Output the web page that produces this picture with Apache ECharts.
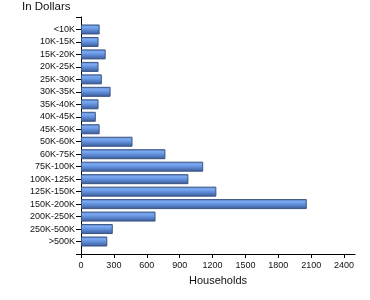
<!DOCTYPE html>
<html>
<head>
<meta charset="utf-8">
<script src="https://cdn.jsdelivr.net/npm/echarts@6/dist/echarts.min.js"></script>
<style>html,body{margin:0;padding:0;background:#fff}#c{width:370px;height:300px}</style>
</head>
<body>
<div id="c"></div>
<script>
var categories = ['<10K','10K-15K','15K-20K','20K-25K','25K-30K','30K-35K','35K-40K','40K-45K','45K-50K','50K-60K','60K-75K','75K-100K','100K-125K','125K-150K','150K-200K','200K-250K','250K-500K','>500K'];
var households = [170,160,225,160,190,270,160,135,170,470,770,1115,980,1235,2060,680,290,240];
var xTicks = [0,300,600,900,1200,1500,1800,2100,2400];
var xMax = 2500;

var yData = [''].concat(categories).concat(['']);
var sData = ['-'].concat(households).concat(['-']);

var font = 'Liberation Sans, Arial, sans-serif';
var chart = echarts.init(document.getElementById('c'), null, {renderer:'canvas'});
chart.setOption({
  animation: false,
  title: {
    text: 'In Dollars', left: 22, top: 1, padding: 0,
    textStyle: {fontFamily: font, fontSize: 11.5, fontWeight: 'normal', color: '#111'}
  },
  grid: {left: 81, right: 15, top: 17, bottom: 46},
  xAxis: {
    type: 'value', min: 0, max: xMax,
    name: 'Households', nameLocation: 'middle', nameGap: 21,
    nameTextStyle: {fontFamily: font, fontSize: 11, color: '#111'},
    splitLine: {show: false},
    axisLine: {show: true, lineStyle: {color: '#000', width: 1}},
    axisTick: {show: true, length: 4, customValues: xTicks, lineStyle: {color: '#000'}},
    axisLabel: {customValues: xTicks, margin: 7, fontFamily: font, fontSize: 9, color: '#111',
      formatter: function (v) { return String(v); }}
  },
  yAxis: {
    type: 'category', inverse: true, boundaryGap: false, data: yData,
    axisLine: {show: true, lineStyle: {color: '#000', width: 1}},
    axisTick: {show: true, length: 5, interval: 0, lineStyle: {color: '#000'}},
    axisLabel: {interval: 0, margin: 6, fontFamily: font, fontSize: 9, color: '#111'},
    splitLine: {show: false}
  },
  series: [{
    type: 'bar', data: sData, barWidth: 10,
    itemStyle: {
      borderColor: '#3a5582', borderWidth: 1,
      color: new echarts.graphic.LinearGradient(0, 0, 0, 1, [
        {offset: 0, color: '#5a86cf'},
        {offset: 0.25, color: '#7ba9f2'},
        {offset: 0.55, color: '#5f8cd8'},
        {offset: 1, color: '#3a5792'}
      ])
    }
  }]
});
</script>
</body>
</html>
